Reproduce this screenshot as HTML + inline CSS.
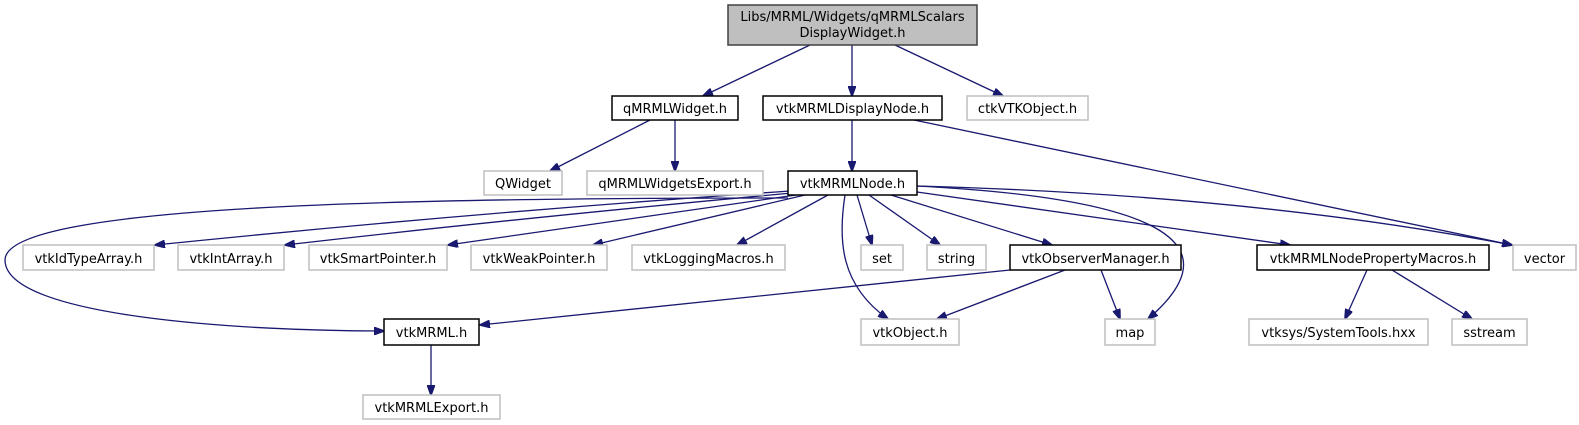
<!DOCTYPE html>
<html><head><meta charset="utf-8"><style>
html,body{margin:0;padding:0;background:#fff;}
svg{display:block;}
text{font-family:"DejaVu Sans","Liberation Sans",sans-serif;font-size:13px;fill:#000;}
.e{fill:none;stroke:#191970;stroke-width:1.3;}
.b{fill:#fff;stroke:#000;stroke-width:1.5;}
.g{fill:#fff;stroke:#bfbfbf;stroke-width:1.5;}
</style></head><body>
<svg width="1579" height="425" viewBox="0 0 1579 425" xmlns="http://www.w3.org/2000/svg">
<defs>
<marker id="a" markerWidth="11" markerHeight="8" refX="10" refY="4" orient="auto" markerUnits="userSpaceOnUse">
<polygon points="0,0 11,4 0,8" fill="#191970" stroke="#191970"/>
</marker>
</defs>
<g marker-end="url(#a)">
<path class="e" d="M810 45 L703 96"/>
<path class="e" d="M852 45 L852 96"/>
<path class="e" d="M895 45 L1003 96"/>
<path class="e" d="M650 120 L550 171"/>
<path class="e" d="M675 120 L675 171"/>
<path class="e" d="M852 120 L852 171"/>
<path class="e" d="M914 120 L1512 245"/>
<path class="e" d="M790 191 Q480 212 155 245"/>
<path class="e" d="M792 193 Q520 218 285 245"/>
<path class="e" d="M796 195 Q620 220 448 245"/>
<path class="e" d="M805 195 L593 245"/>
<path class="e" d="M828 195 L737 245"/>
<path class="e" d="M857 195 L872 245"/>
<path class="e" d="M869 195 L940 245"/>
<path class="e" d="M891 195 L1052 245"/>
<path class="e" d="M917 192 L1290 245"/>
<path class="e" d="M917 186 Q1250 195 1512 245"/>
<path class="e" d="M845 195 C838 240 840 285 888 319"/>
<path class="e" d="M917 186 C1150 198 1240 240 1148 319"/>
<path class="e" d="M1010 270 L480 325"/>
<path class="e" d="M1065 270 L937 319"/>
<path class="e" d="M1101 270 L1120 319"/>
<path class="e" d="M788 198 C400 198 5 205 5 260 C5 318 250 331 384 331"/>
<path class="e" d="M431 345 L431 395"/>
<path class="e" d="M1367 270 L1345 319"/>
<path class="e" d="M1392 270 L1472 319"/>
</g>
<rect x="728" y="5" width="249" height="40" fill="#bfbfbf" stroke="#404040" stroke-width="1.5"/>
<text x="852.5" y="21" text-anchor="middle">Libs/MRML/Widgets/qMRMLScalars</text>
<text x="852.5" y="37" text-anchor="middle">DisplayWidget.h</text>
<g text-anchor="middle">
<rect class="b" x="612" y="96" width="126" height="24"/><text x="675" y="113">qMRMLWidget.h</text>
<rect class="b" x="763" y="96" width="179" height="24"/><text x="852.5" y="113">vtkMRMLDisplayNode.h</text>
<rect class="g" x="967" y="96" width="121" height="24"/><text x="1027.5" y="113">ctkVTKObject.h</text>
<rect class="g" x="484" y="171" width="78" height="24"/><text x="523" y="188">QWidget</text>
<rect class="g" x="587" y="171" width="176" height="24"/><text x="675" y="188">qMRMLWidgetsExport.h</text>
<rect class="b" x="788" y="171" width="129" height="24"/><text x="852.5" y="188">vtkMRMLNode.h</text>
<rect class="g" x="23" y="245" width="131" height="25"/><text x="88.5" y="263">vtkIdTypeArray.h</text>
<rect class="g" x="178" y="245" width="106" height="25"/><text x="231" y="263">vtkIntArray.h</text>
<rect class="g" x="309" y="245" width="138" height="25"/><text x="378" y="263">vtkSmartPointer.h</text>
<rect class="g" x="471" y="245" width="136" height="25"/><text x="539" y="263">vtkWeakPointer.h</text>
<rect class="g" x="632" y="245" width="153" height="25"/><text x="708.5" y="263">vtkLoggingMacros.h</text>
<rect class="g" x="861" y="245" width="42" height="25"/><text x="882" y="263">set</text>
<rect class="g" x="927" y="245" width="59" height="25"/><text x="956.5" y="263">string</text>
<rect class="b" x="1010" y="245" width="171" height="25"/><text x="1095.5" y="263">vtkObserverManager.h</text>
<rect class="b" x="1257" y="245" width="232" height="25"/><text x="1373" y="263">vtkMRMLNodePropertyMacros.h</text>
<rect class="g" x="1513" y="245" width="63" height="25"/><text x="1544.5" y="263">vector</text>
<rect class="b" x="384" y="319" width="95" height="26"/><text x="431.5" y="337">vtkMRML.h</text>
<rect class="g" x="861" y="319" width="98" height="26"/><text x="910" y="337">vtkObject.h</text>
<rect class="g" x="1105" y="319" width="50" height="26"/><text x="1130" y="337">map</text>
<rect class="g" x="1249" y="319" width="179" height="26"/><text x="1338.5" y="337">vtksys/SystemTools.hxx</text>
<rect class="g" x="1452" y="319" width="75" height="26"/><text x="1489.5" y="337">sstream</text>
<rect class="g" x="363" y="395" width="137" height="24"/><text x="431.5" y="412">vtkMRMLExport.h</text>
</g>
</svg>
</body></html>
